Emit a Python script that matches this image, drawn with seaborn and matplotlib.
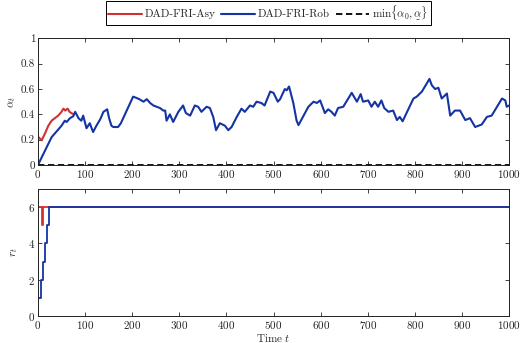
import numpy as np
import pandas as pd
import matplotlib
matplotlib.use("Agg")
import matplotlib.pyplot as plt
import seaborn as sns

# alpha_t
t_asy = [0, 1, 8, 15, 22, 29, 36, 43, 50, 54, 58, 61, 63, 67, 71, 76]
a_asy = [0.21, 0.22, 0.195, 0.25, 0.31, 0.35, 0.37, 0.39, 0.42, 0.445, 0.43, 0.44, 0.445, 0.42, 0.41, 0.40]

t_rob = [0, 29, 36, 43, 50, 57, 61, 68, 75, 79, 86, 92, 96, 103, 110, 117, 124, 132, 139, 147,
         151, 156, 160, 170, 176, 202, 209, 215, 224, 231, 238, 245, 252, 259, 266, 270, 273, 280,
         287, 298, 308, 314, 323, 333, 340, 347, 358, 365, 372, 378, 386, 397, 404, 411, 422, 432,
         439, 450, 457, 464, 474, 481, 493, 500, 509, 514, 524, 528, 533, 542, 549, 553, 574, 585,
         592, 599, 609, 616, 623, 630, 637, 648, 666, 677, 685, 690, 701, 708, 715, 722, 729, 735,
         744, 754, 762, 768, 774, 797, 804, 815, 831, 836, 843, 850, 857, 864, 868, 875, 885, 896,
         907, 917, 928, 942, 953, 963, 985, 992, 995, 1000]
a_rob = [0.0, 0.22, 0.25, 0.28, 0.31, 0.35, 0.34, 0.37, 0.385, 0.42, 0.37, 0.35, 0.39, 0.29, 0.33,
         0.26, 0.31, 0.36, 0.42, 0.44, 0.37, 0.31, 0.30, 0.30, 0.33, 0.54, 0.53, 0.52, 0.50, 0.52,
         0.49, 0.47, 0.46, 0.45, 0.43, 0.43, 0.35, 0.40, 0.34, 0.42, 0.47, 0.41, 0.39, 0.47, 0.46,
         0.42, 0.46, 0.45, 0.38, 0.275, 0.33, 0.31, 0.275, 0.30, 0.38, 0.445, 0.42, 0.47, 0.46, 0.50,
         0.49, 0.47, 0.58, 0.57, 0.50, 0.52, 0.60, 0.59, 0.62, 0.49, 0.35, 0.315, 0.46, 0.50, 0.49,
         0.51, 0.41, 0.44, 0.42, 0.39, 0.45, 0.46, 0.57, 0.50, 0.56, 0.50, 0.51, 0.46, 0.50, 0.46,
         0.51, 0.45, 0.42, 0.43, 0.355, 0.38, 0.345, 0.525, 0.54, 0.58, 0.68, 0.63, 0.60, 0.61, 0.525,
         0.55, 0.565, 0.39, 0.43, 0.43, 0.355, 0.37, 0.30, 0.32, 0.38, 0.39, 0.525, 0.51, 0.46, 0.47]

t_min = [0, 1000]
a_min = [0.0, 0.0]

# r_t (step curves)
t_r_asy = [0, 8, 10, 1000]
r_asy = [6, 5, 6, 6]
t_r_rob = [0, 6, 11, 16, 19, 23, 1000]
r_rob = [1, 2, 3, 4, 5, 6, 6]

red = "#d03232"
blue = "#1434a4"

sns.set_style("ticks")
plt.rcParams["font.family"] = ["cmr10", "DejaVu Serif"]
plt.rcParams["mathtext.fontset"] = "cm"
plt.rcParams["axes.unicode_minus"] = False
plt.rcParams["axes.formatter.use_mathtext"] = True

fig = plt.figure(figsize=(5.2, 3.43), dpi=100)
ax1 = fig.add_axes([0.073, 0.519, 0.906, 0.369])
ax2 = fig.add_axes([0.073, 0.079, 0.906, 0.370])

sns.lineplot(x=t_asy, y=a_asy, ax=ax1, color=red, lw=1.5, label="DAD-FRI-Asy")
sns.lineplot(x=t_rob, y=a_rob, ax=ax1, color=blue, lw=1.5, label="DAD-FRI-Rob")
sns.lineplot(x=t_min, y=a_min, ax=ax1, color="black", lw=1.3, ls=(0, (3.5, 2)),
             label=r"$\min\{\alpha_0,\underset{\_}{\alpha}\}$")

sns.lineplot(x=t_r_asy, y=r_asy, ax=ax2, color=red, lw=1.3, drawstyle="steps-post")
sns.lineplot(x=t_r_rob, y=r_rob, ax=ax2, color=blue, lw=1.3, drawstyle="steps-post")

ax1.set_xlim(0, 1000)
ax1.set_ylim(0, 1)
ax1.set_yticks([0, 0.2, 0.4, 0.6, 0.8, 1])
ax1.set_yticklabels(["0", "0.2", "0.4", "0.6", "0.8", "1"])
ax1.set_ylabel(r"$\alpha_t$", fontsize=8, labelpad=2)

ax2.set_xlim(0, 1000)
ax2.set_ylim(0, 7)
ax2.set_yticks([0, 2, 4, 6])
ax2.set_ylabel(r"$r_t$", fontsize=8, labelpad=6)
ax2.set_xlabel(r"Time $t$", fontsize=8, labelpad=1)

for ax in (ax1, ax2):
    ax.set_xticks(np.arange(0, 1001, 100))
    ax.tick_params(direction="in", top=True, right=True, labelsize=8, length=3,
                   width=0.6, pad=2, colors="#222222")
    for s in ax.spines.values():
        s.set_linewidth(0.7)
        s.set_color("#222222")

ax1.legend_.remove()
h, l = ax1.get_legend_handles_labels()
fig.legend(h, l, loc="center", bbox_to_anchor=(0.516, 0.962), ncol=3, fontsize=8,
           frameon=True, fancybox=False, edgecolor="black", framealpha=1,
           handlelength=3, handletextpad=0.3, columnspacing=0.5, borderpad=0.25)
leg = fig.legends[0]
leg.get_frame().set_linewidth(0.7)

fig.savefig("out.png", dpi=100)
